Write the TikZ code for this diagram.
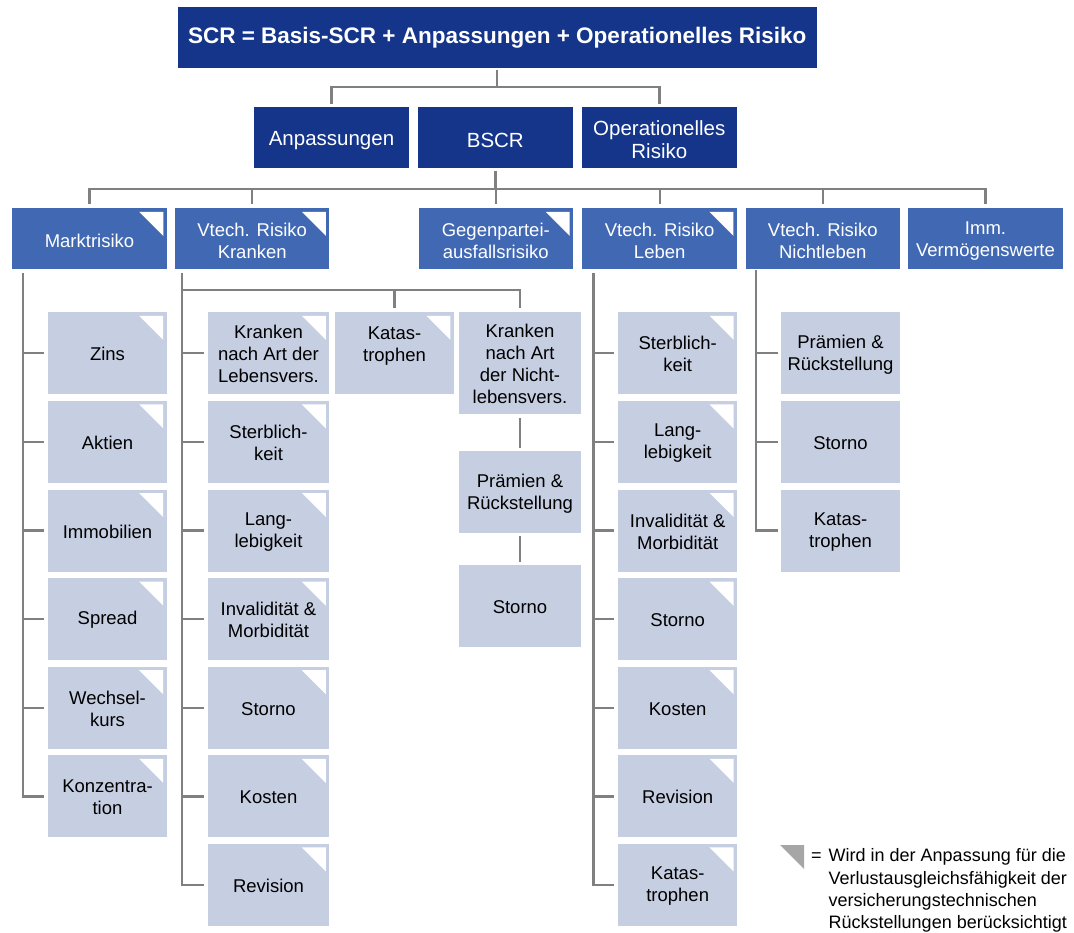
\documentclass[tikz,border=0pt]{standalone}
\usepackage{fontspec}
\setmainfont{Liberation Sans}
\definecolor{navy}{HTML}{14358A}
\definecolor{midblue}{HTML}{4169B3}
\definecolor{lightblue}{HTML}{C6CEE1}
\definecolor{linegray}{HTML}{808080}
\definecolor{legendgray}{HTML}{A6A6A6}
\begin{document}
\begin{tikzpicture}[x=1pt,y=-1pt,
  conn/.style={draw=linegray, line width=2.4pt},
  base/.style={rectangle, inner sep=0pt, align=center, font=\fontsize{18.5}{22}\selectfont},
  topbox/.style={base, fill=navy, text=white, minimum width=639pt, minimum height=61pt, font=\bfseries\fontsize{22.5}{26}\selectfont},
  lvtwo/.style={base, fill=navy, text=white, minimum width=154.5pt, minimum height=61pt, font=\fontsize{20.5}{23}\selectfont, text height=19.5pt},
  twoltwo/.style={text height=42pt},
  lvthree/.style={base, fill=midblue, text=white, minimum width=154.5pt, minimum height=61pt, text height=17.5pt},
  twolthree/.style={text height=39.5pt},
  subbox/.style={base, fill=lightblue, text=black, minimum height=82pt, text height=15.5pt},
  twol/.style={text height=37.5pt},
  threel/.style={text height=59.5pt},
  fourl/.style={text height=81.5pt},
  flag/.style={path picture={\fill[white] ([xshift=-3.5pt,yshift=-3.5pt]path picture bounding box.north east) -- ++(-24pt,0pt) -- ++(24pt,-24pt) -- cycle;}},
]
\useasboundingbox (0,0) rectangle (1074,933);

% top
\node[topbox] (scr) at (497.2,37.8) {SCR = Basis-SCR + Anpassungen + Operationelles Risiko};
% level 2
\node[lvtwo] (anp) at (331.5,137.8) {Anpassungen};
\node[lvtwo] (bscr) at (495.3,137.8) {BSCR};
\node[lvtwo,twoltwo] (opr) at (659.3,137.8) {Operationelles\\Risiko};
% level 3
\node[lvthree,flag] (markt) at (89.5,238.8) {Marktrisiko};
\node[lvthree,twolthree,flag] (kran) at (252.2,238.8) {Vtech. Risiko\\Kranken};
\node[lvthree,twolthree,flag] (gegen) at (495.8,238.8) {Gegenpartei-\\ausfallsrisiko};
\node[lvthree,twolthree,flag] (leben) at (659.7,238.8) {Vtech. Risiko\\Leben};
\node[lvthree,twolthree] (nicht) at (822.8,238.8) {Vtech. Risiko\\Nichtleben};
\node[lvthree,twolthree] (imm) at (985.5,238.8) {Imm.\\Vermögenswerte};

% Markt column
\begin{scope}[every node/.style={subbox,flag,minimum width=118.4pt}]
\node (m0) at (107.5,353.3) {Zins};
\node (m1) at (107.5,441.9) {Aktien};
\node (m2) at (107.5,530.5) {Immobilien};
\node (m3) at (107.5,619.1) {Spread};
\node[twol] (m4) at (107.5,707.7) {Wechsel-\\kurs};
\node[twol] (m5) at (107.5,796.3) {Konzentra-\\tion};
\end{scope}

% Kranken column
\begin{scope}[every node/.style={subbox,flag,minimum width=121.6pt}]
\node[threel] (k0) at (268.5,353.3) {Kranken\\nach Art der\\Lebensvers.};
\node[twol] (k1) at (268.5,441.9) {Sterblich-\\keit};
\node[twol] (k2) at (268.5,530.5) {Lang-\\lebigkeit};
\node[twol] (k3) at (268.5,619.1) {Invalidität \&\\Morbidität};
\node (k4) at (268.5,707.7) {Storno};
\node (k5) at (268.5,796.3) {Kosten};
\node (k6) at (268.5,884.9) {Revision};
\end{scope}
\node[subbox,threel,flag,minimum width=118.7pt] (kkat) at (394.5,353.3) {Katas-\\trophen\\\mbox{}};
\node[subbox,fourl,minimum width=122pt,minimum height=102pt] (knl) at (520,363.3) {Kranken\\nach Art\\der Nicht-\\lebensvers.};
\node[subbox,twol,minimum width=122pt] (kpr) at (520,492.2) {Prämien \&\\Rückstellung};
\node[subbox,minimum width=122pt] (kst) at (520,606.2) {Storno};

% Leben column
\begin{scope}[every node/.style={subbox,flag,minimum width=118.7pt}]
\node[twol] (l0) at (677.7,353.3) {Sterblich-\\keit};
\node[twol] (l1) at (677.7,441.9) {Lang-\\lebigkeit};
\node[twol] (l2) at (677.7,530.5) {Invalidität \&\\Morbidität};
\node (l3) at (677.7,619.1) {Storno};
\node (l4) at (677.7,707.7) {Kosten};
\node (l5) at (677.7,796.3) {Revision};
\node[twol] (l6) at (677.7,884.9) {Katas-\\trophen};
\end{scope}

% Nichtleben column
\begin{scope}[every node/.style={subbox,minimum width=119pt}]
\node[twol] (n0) at (840.5,353.3) {Prämien \&\\Rückstellung};
\node (n1) at (840.5,441.9) {Storno};
\node[twol] (n2) at (840.5,530.5) {Katas-\\trophen};
\end{scope}

% connectors level 1-2
\coordinate (j0) at (497.2,87);
\draw[conn,shorten <=1.5pt] (scr.south) -- (j0);
\draw[conn,shorten >=3pt] (j0) -| (anp.north);
\draw[conn,shorten >=3pt] (j0) -| (opr.north);
% level 2-3
\coordinate (j1) at (495.3,189.3);
\draw[conn,shorten <=3pt] (bscr.south) -- (j1);
\foreach \n in {markt,kran,gegen,leben,nicht,imm}
  \draw[conn,shorten >=4pt] (j1) -| (\n.north);

% Markt tree
\coordinate (mt) at (22.7,273);
\draw[conn] (mt) |- ([xshift=-4pt]m5.west);
\foreach \n in {m0,m1,m2,m3,m4}
  \draw[conn] (mt |- \n.west) -- ([xshift=-4pt]\n.west);

% Kranken tree
\coordinate (kt) at (181.7,273);
\draw[conn] (kt) |- ([xshift=-4pt]k6.west);
\foreach \n in {k0,k1,k2,k3,k4,k5}
  \draw[conn] (kt |- \n.west) -- ([xshift=-4pt]\n.west);
\coordinate (kj) at (181.7,290);
\draw[conn,shorten >=4.5pt] (kj) -| (kkat.north);
\draw[conn,shorten >=4.5pt] (kj) -| (knl.north);
\draw[conn,shorten <=3pt,shorten >=3pt] (knl.south) -- (kpr.north);
\draw[conn,shorten <=3pt,shorten >=3pt] (kpr.south) -- (kst.north);

% Leben tree
\coordinate (lt) at (593.3,273);
\draw[conn] (lt) |- ([xshift=-4pt]l6.west);
\foreach \n in {l0,l1,l2,l3,l4,l5}
  \draw[conn] (lt |- \n.west) -- ([xshift=-4pt]\n.west);

% Nichtleben tree
\coordinate (nt) at (755.7,270);
\draw[conn] (nt) |- ([xshift=-3pt]n2.west);
\foreach \n in {n0,n1}
  \draw[conn] (nt |- \n.west) -- ([xshift=-3pt]\n.west);

% legend
\fill[legendgray] (780,845) -- (804,845) -- (804,869) -- cycle;
\node[anchor=north west, inner sep=0pt, font=\fontsize{18}{22.3}\selectfont] (leg) at (811,846)
  {\begin{tabular}{@{}l@{\hspace{7pt}}l@{}}=&Wird in der Anpassung für die\\ &Verlustausgleichsfähigkeit der\\ &versicherungstechnischen\\ &Rückstellungen berücksichtigt\end{tabular}};
\end{tikzpicture}
\end{document}
